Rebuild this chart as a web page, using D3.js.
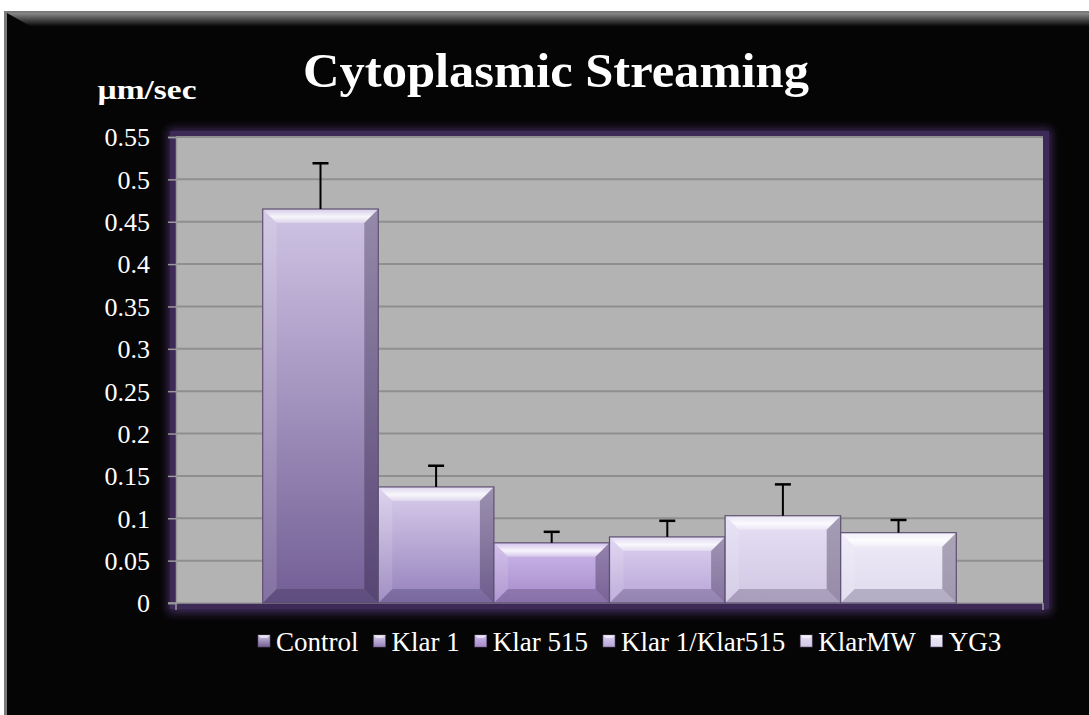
<!DOCTYPE html>
<html><head><meta charset="utf-8">
<script src="https://cdn.jsdelivr.net/npm/d3@7"></script>
<style>html,body{margin:0;padding:0;background:#fff;}svg{display:block;}</style>
</head><body>
<svg id="chart" width="1089" height="715"></svg>
<script>
const series = ["Control", "Klar 1", "Klar 515", "Klar 1/Klar515", "KlarMW", "YG3"];
const values = [0.465, 0.137, 0.071, 0.078, 0.103, 0.083];
const errors = [0.054, 0.025, 0.013, 0.019, 0.037, 0.015];
const yTicks = [0, 0.05, 0.1, 0.15, 0.2, 0.25, 0.3, 0.35, 0.4, 0.45, 0.5, 0.55];
const colorTop = ["#cfc4e4", "#d9cfec", "#cdb9ea", "#dcd2f0", "#e6e0f5", "#efebf8"];
const colorBot = ["#735e95", "#9580bc", "#a68ac9", "#b7a3d6", "#d0c6e3", "#dfdaee"];

const svg = d3.select("#chart");
const W = 1089, H = 715;
const plot = {l: 176, r: 1043, t: 137, b: 603};
const font = "'Liberation Serif', 'Times New Roman', serif";

const defs = svg.append("defs");
const fg = defs.append("linearGradient").attr("id","topbev").attr("x1",0).attr("y1",0).attr("x2",0).attr("y2",1);
fg.append("stop").attr("offset",0).attr("stop-color","#8a8a8a");
fg.append("stop").attr("offset",1).attr("stop-color","#0a0a0a");
svg.append("rect").attr("x",4).attr("y",11).attr("width",W-4).attr("height",H-11).attr("fill","#7a7a7a");
svg.append("rect").attr("x",7).attr("y",13).attr("width",W-7).attr("height",H-13).attr("fill","#050505");
svg.append("path").attr("d",`M7,13 L${W},13 L${W},26 L30,26 Z`).attr("fill","url(#topbev)");

// glow behind plot
const blur = defs.append("filter").attr("id","glow").attr("x","-10%").attr("y","-10%").attr("width","120%").attr("height","120%");
blur.append("feGaussianBlur").attr("stdDeviation",5);
svg.append("rect").attr("x",plot.l-8).attr("y",plot.t-8).attr("width",plot.r-plot.l+16).attr("height",plot.b-plot.t+18)
  .attr("fill","#3f2c5c").attr("filter","url(#glow)");
svg.append("rect").attr("x",plot.l-6).attr("y",plot.t-6).attr("width",plot.r-plot.l+12).attr("height",plot.b-plot.t+12)
  .attr("fill","#3d2a57");
svg.append("rect").attr("x",plot.l).attr("y",plot.t).attr("width",plot.r-plot.l).attr("height",plot.b-plot.t)
  .attr("fill","#b3b3b3");

const y = d3.scaleLinear().domain([0, 0.55]).range([plot.b, plot.t]);
const x = d3.scaleBand().domain(series).range([plot.l, plot.r]).paddingInner(0).paddingOuter(0.75);

// gridlines
svg.append("g").selectAll("line").data(yTicks.filter(d=>d>0)).join("line")
  .attr("x1",plot.l).attr("x2",plot.r).attr("y1",d=>y(d)).attr("y2",d=>y(d))
  .attr("stroke","#8f8f8f").attr("stroke-width",2);

// y axis
const yAxis = d3.axisLeft(y).tickValues(yTicks).tickFormat(d=>String(+d.toFixed(2))).tickSize(8).tickPadding(18);
const gy = svg.append("g").attr("transform",`translate(${plot.l},0)`).call(yAxis);
gy.select(".domain").attr("stroke","#9a9a9a").attr("stroke-width",1.5);
gy.selectAll(".tick line").attr("stroke","#9a9a9a").attr("stroke-width",1.5);
gy.selectAll(".tick text").attr("fill","#ffffff").attr("font-family",font).attr("font-size",26).attr("dy","0.34em");

// x axis baseline
svg.append("line").attr("x1",plot.l-8).attr("x2",plot.r).attr("y1",plot.b).attr("y2",plot.b).attr("stroke","#9a9a9a").attr("stroke-width",1.5);
[plot.l, plot.r].forEach(px => svg.append("line").attr("x1",px).attr("x2",px).attr("y1",plot.b).attr("y2",plot.b+7).attr("stroke","#9a9a9a").attr("stroke-width",1.5));

// bar gradients
series.forEach((s,i)=>{
  const g = defs.append("linearGradient").attr("id","bg"+i).attr("x1",0).attr("y1",0).attr("x2",0).attr("y2",1);
  g.append("stop").attr("offset",0).attr("stop-color",colorTop[i]);
  g.append("stop").attr("offset",1).attr("stop-color",colorBot[i]);
});
const hl = defs.append("linearGradient").attr("id","hl").attr("x1",0).attr("y1",0).attr("x2",0).attr("y2",1);
hl.append("stop").attr("offset",0).attr("stop-color","#ffffff").attr("stop-opacity",0.15);
hl.append("stop").attr("offset",0.55).attr("stop-color","#ffffff").attr("stop-opacity",0.85);
hl.append("stop").attr("offset",1).attr("stop-color","#ffffff").attr("stop-opacity",0.3);

const bars = svg.append("g").selectAll("g").data(series).join("g");
bars.each(function(s,i){
  const g = d3.select(this);
  const x0 = x(s), w = x.bandwidth(), y0 = y(values[i]), y1 = y(0), h = y1 - y0;
  const b = Math.min(14, h/2.5);
  g.append("rect").attr("x",x0).attr("y",y0).attr("width",w).attr("height",h).attr("fill",`url(#bg${i})`);
  g.append("path").attr("d",`M${x0},${y0} L${x0+w},${y0} L${x0+w-b},${y0+b} L${x0+b},${y0+b} Z`).attr("fill","url(#hl)");
  g.append("path").attr("d",`M${x0},${y0} L${x0+b},${y0+b} L${x0+b},${y1-b} L${x0},${y1} Z`).attr("fill","#ffffff").attr("opacity",0.12);
  g.append("path").attr("d",`M${x0+w},${y0} L${x0+w},${y1} L${x0+w-b},${y1-b} L${x0+w-b},${y0+b} Z`).attr("fill","#1c1030").attr("opacity",0.32);
  g.append("path").attr("d",`M${x0},${y1} L${x0+w},${y1} L${x0+w-b},${y1-b} L${x0+b},${y1-b} Z`).attr("fill","#1c1030").attr("opacity",0.22);
  g.append("rect").attr("x",x0).attr("y",y0).attr("width",w).attr("height",h).attr("fill","none").attr("stroke","#5d5070").attr("stroke-width",1.2);
  const cx = x0 + w/2, ye = y(values[i] + errors[i]);
  g.append("line").attr("x1",cx).attr("x2",cx).attr("y1",y0).attr("y2",ye).attr("stroke","#000").attr("stroke-width",2);
  g.append("line").attr("x1",cx-8).attr("x2",cx+8).attr("y1",ye).attr("y2",ye).attr("stroke","#000").attr("stroke-width",2.5);
});

// fit text horizontally to a target width (condensed look)
function fitX(sel, cx, targetW){
  const w = sel.node().getComputedTextLength();
  const s = targetW / w;
  sel.attr("x", 0).attr("transform", `translate(${cx},0) scale(${s},1)`);
}

// title
const title = svg.append("text").attr("y",87).attr("text-anchor","middle")
  .attr("fill","#fff").attr("font-family",font).attr("font-weight","bold").attr("font-size",49)
  .text("Cytoplasmic Streaming");
fitX(title, 556, 506);

// unit label
const unit = svg.append("text").attr("y",99).attr("text-anchor","middle").attr("fill","#fff").attr("font-family",font)
  .attr("font-weight","bold").attr("font-size",28).text("µm/sec");
fitX(unit, 147, 99);

// legend
const leg = svg.append("g");
let lx = 258;
const legY = 651;
series.forEach((s,i)=>{
  const it = leg.append("g");
  it.append("rect").attr("x",lx).attr("y",legY-16).attr("width",12).attr("height",12).attr("fill",`url(#bg${i})`).attr("stroke","#5d5070").attr("stroke-width",0.6);
  it.append("path").attr("d",`M${lx},${legY-16} L${lx+12},${legY-16} L${lx+9},${legY-13} L${lx+3},${legY-13} Z`).attr("fill","#fff").attr("opacity",0.6);
  const t = it.append("text").attr("x",lx+18).attr("y",legY).attr("fill","#fff").attr("font-family",font).attr("font-size",27).text(s);
  lx += 18 + t.node().getComputedTextLength() + 15;
});
</script>
</body></html>
